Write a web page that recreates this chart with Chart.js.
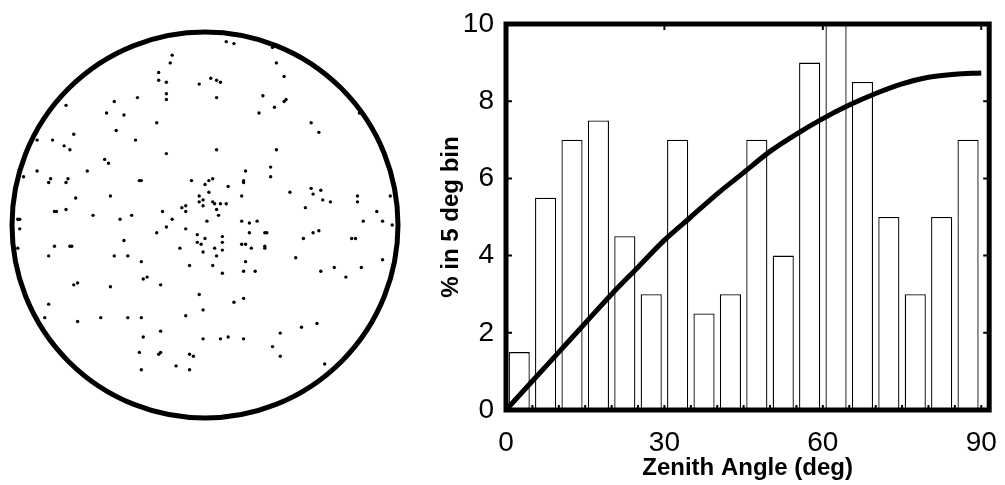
<!DOCTYPE html>
<html>
<head>
<meta charset="utf-8">
<script src="https://cdn.jsdelivr.net/npm/chart.js@4.4.1/dist/chart.umd.min.js"></script>
<style>
body { margin: 0; background: #fff; }
#skyChart { position: absolute; left: 7px; top: 27px; }
#zenithChart { position: absolute; left: 434px; top: 0px; }
</style>
</head>
<body>
<canvas id="skyChart" width="396" height="396"></canvas>
<canvas id="zenithChart" width="571" height="485"></canvas>
<script>
// sky plot: positions inside unit circle (radius = 100)
const skyX = [-17,-18,-24,-24,-20,-3,-20,-20,-35,-47,-72,-51,-42,-25,-46,-68,-87,-79,-73,-70,-36,-20,-52,-50,-87,-94,-80,-81,-71,-72,-61,-34,-33,-7,-49,-67,-3,-3,-1,-1,-12,-10,-10,-72,-78,-77,-58,-38,-22,-17,-44,-97,-96,-96,-20,-10,
    11,15,35,37,41,3,6,8,6,30,42,41,36,28,55,59,80,6,37,21,34,34,4,2,0,20,20,12,2,19,44,55,56,60,61,65,79,79,96,4,5,8,11,6,7,52,89,1,19,23,27,82,92,97,
    -25,-4,0,-4,-2,-13,-1,-33,-8,-30,-32,-42,-97,-78,-70,-69,-81,-47,-40,-68,-66,-49,-23,-3,-81,-83,-66,-54,-40,-33,-10,-1,-23,-32,-1,-34,-24,-23,-8,-6,-33,-15,-8,
    23,31,32,9,9,19,21,24,31,31,5,9,6,21,4,20,26,9,51,56,59,76,78,47,92,60,67,73,81,15,20,50,58,8,12,20,39,35,39,62];
const skyY = [88,84,79,75,74,73,68,65,66,64,62,58,57,53,49,47,44,44,41,39,44,37,34,32,28,25,24,22,24,22,28,23,23,23,15,14,15,12,13,10,9,10,7,8,7,7,5,5,7,3,3,3,3,-2,-1,-2,
    95,94,92,84,77,76,75,74,66,67,65,64,61,58,53,48,58,39,39,28,30,25,24,23,21,23,22,20,17,15,17,19,16,18,13,12,15,12,15,12,11,11,11,8,5,9,7,2,2,1,2,2,2,0,
    -4,-5,-7,-9,-10,-12,-14,-19,-21,-27,-28,-8,-12,-11,-11,-11,-16,-16,-16,-31,-30,-32,-31,-36,-41,-48,-50,-48,-48,-48,-47,-44,-55,-58,-59,-66,-67,-66,-67,-68,-75,-73,-75,
    -4,-4,-4,-6,-9,-10,-10,-12,-11,-12,-12,-13,-16,-19,-21,-24,-24,-25,-7,-4,-3,-7,-7,-17,-18,-24,-22,-27,-22,-40,-38,-53,-51,-59,-58,-59,-56,-63,-68,-72];

// histogram
const binCenters = [2.5,7.5,12.5,17.5,22.5,27.5,32.5,37.5,42.5,47.5,52.5,57.5,62.5,67.5,72.5,77.5,82.5,87.5];
const binPercent = [1.5,5.5,7,7.5,4.5,3,7,2.5,3,7,4,9,10,8.5,5,3,5,7];
const binEdges = [5,10,15,20,25,30,35,40,45,50,55,60,65,70,75,80,85,90];
const curveAngle = [0,5,10,15,20,25,30,35,40,45,50,55,60,65,70,75,80,85,90];
const curvePercent = [0,0.75,1.5,2.25,3.0,3.7,4.4,5.0,5.6,6.15,6.7,7.15,7.55,7.9,8.2,8.45,8.62,8.7,8.73];
const xTickValues = [0,30,60,90];
const yTickValues = [0,2,4,6,8,10];

const fontFamily = "'Liberation Sans', Arial, Helvetica, sans-serif";

// circle outline around the sky plot
const ringPlugin = {
    id: 'ring',
    beforeDatasetsDraw(chart) {
        const ctx = chart.ctx;
        const xs = chart.scales.x, ys = chart.scales.y;
        const cx = xs.getPixelForValue(0), cy = ys.getPixelForValue(0);
        const r = xs.getPixelForValue(100) - cx;
        ctx.save();
        ctx.beginPath();
        ctx.arc(cx, cy, r, 0, Math.PI * 2);
        ctx.lineWidth = 5;
        ctx.strokeStyle = '#000';
        ctx.stroke();
        ctx.restore();
    }
};

// thick box around the histogram, with small inward ticks
const framePlugin = {
    id: 'frame',
    afterDatasetsDraw(chart) {
        const a = chart.chartArea;
        const xs = chart.scales.x, ys = chart.scales.y;
        const ctx = chart.ctx;
        ctx.save();
        ctx.strokeStyle = '#000';
        ctx.lineWidth = 2;
        ctx.beginPath();
        yTickValues.forEach(v => {
            const py = ys.getPixelForValue(v);
            ctx.moveTo(a.left, py); ctx.lineTo(a.left + 6, py);
            ctx.moveTo(a.right, py); ctx.lineTo(a.right - 6, py);
        });
        xTickValues.forEach(v => {
            const px = xs.getPixelForValue(v);
            ctx.moveTo(px, a.top); ctx.lineTo(px, a.top + 6);
        });
        binEdges.forEach(v => {
            const px = xs.getPixelForValue(v);
            ctx.moveTo(px, a.bottom); ctx.lineTo(px, a.bottom - 5);
        });
        ctx.stroke();
        ctx.lineWidth = 5;
        ctx.strokeRect(a.left, a.top, a.right - a.left, a.bottom - a.top);
        ctx.restore();
    }
};

new Chart(document.getElementById('skyChart'), {
    type: 'scatter',
    data: {
        datasets: [{
            data: skyX.map((x, i) => ({x: x, y: skyY[i]})),
            backgroundColor: '#000',
            borderWidth: 0,
            pointRadius: 1.7
        }]
    },
    options: {
        responsive: false,
        animation: false,
        layout: {padding: 5},
        plugins: {legend: {display: false}, tooltip: {enabled: false}},
        scales: {
            x: {type: 'linear', min: -100, max: 100, display: false},
            y: {type: 'linear', min: -100, max: 100, display: false}
        }
    },
    plugins: [ringPlugin]
});

new Chart(document.getElementById('zenithChart'), {
    type: 'bar',
    data: {
        datasets: [{
            type: 'line',
            data: curveAngle.map((a, i) => ({x: a, y: curvePercent[i]})),
            borderColor: '#000',
            borderWidth: 5,
            pointRadius: 0,
            cubicInterpolationMode: 'monotone',
            order: 0
        }, {
            type: 'bar',
            data: binCenters.map((c, i) => ({x: c, y: binPercent[i]})),
            backgroundColor: '#fff',
            borderColor: '#000',
            borderWidth: 1.3,
            categoryPercentage: 1,
            barPercentage: 0.8,
            order: 1
        }]
    },
    options: {
        responsive: false,
        animation: false,
        layout: {padding: {top: 24, right: 10, left: 0, bottom: 0}},
        plugins: {legend: {display: false}, tooltip: {enabled: false}},
        scales: {
            x: {
                type: 'linear',
                min: 0,
                max: 91.5,
                offset: false,
                grid: {display: false},
                border: {display: false},
                afterBuildTicks: s => { s.ticks = xTickValues.map(v => ({value: v})); },
                afterFit: s => { s.height = 75; },
                ticks: {color: '#000', padding: 8, maxRotation: 0, font: {family: fontFamily, size: 28}},
                title: {display: true, text: 'Zenith Angle (deg)', color: '#000', padding: {top: 2, bottom: 2},
                    font: {family: fontFamily, size: 24, weight: 'bold'}}
            },
            y: {
                type: 'linear',
                min: 0,
                max: 10,
                grid: {display: false},
                border: {display: false},
                afterBuildTicks: s => { s.ticks = yTickValues.map(v => ({value: v})); },
                afterFit: s => { s.width = 72; },
                ticks: {color: '#000', padding: 4, font: {family: fontFamily, size: 28}},
                title: {display: true, text: '% in 5 deg bin', color: '#000', padding: {top: 3, bottom: 3},
                    font: {family: fontFamily, size: 24, weight: 'bold'}}
            }
        }
    },
    plugins: [framePlugin]
});
</script>
</body>
</html>
